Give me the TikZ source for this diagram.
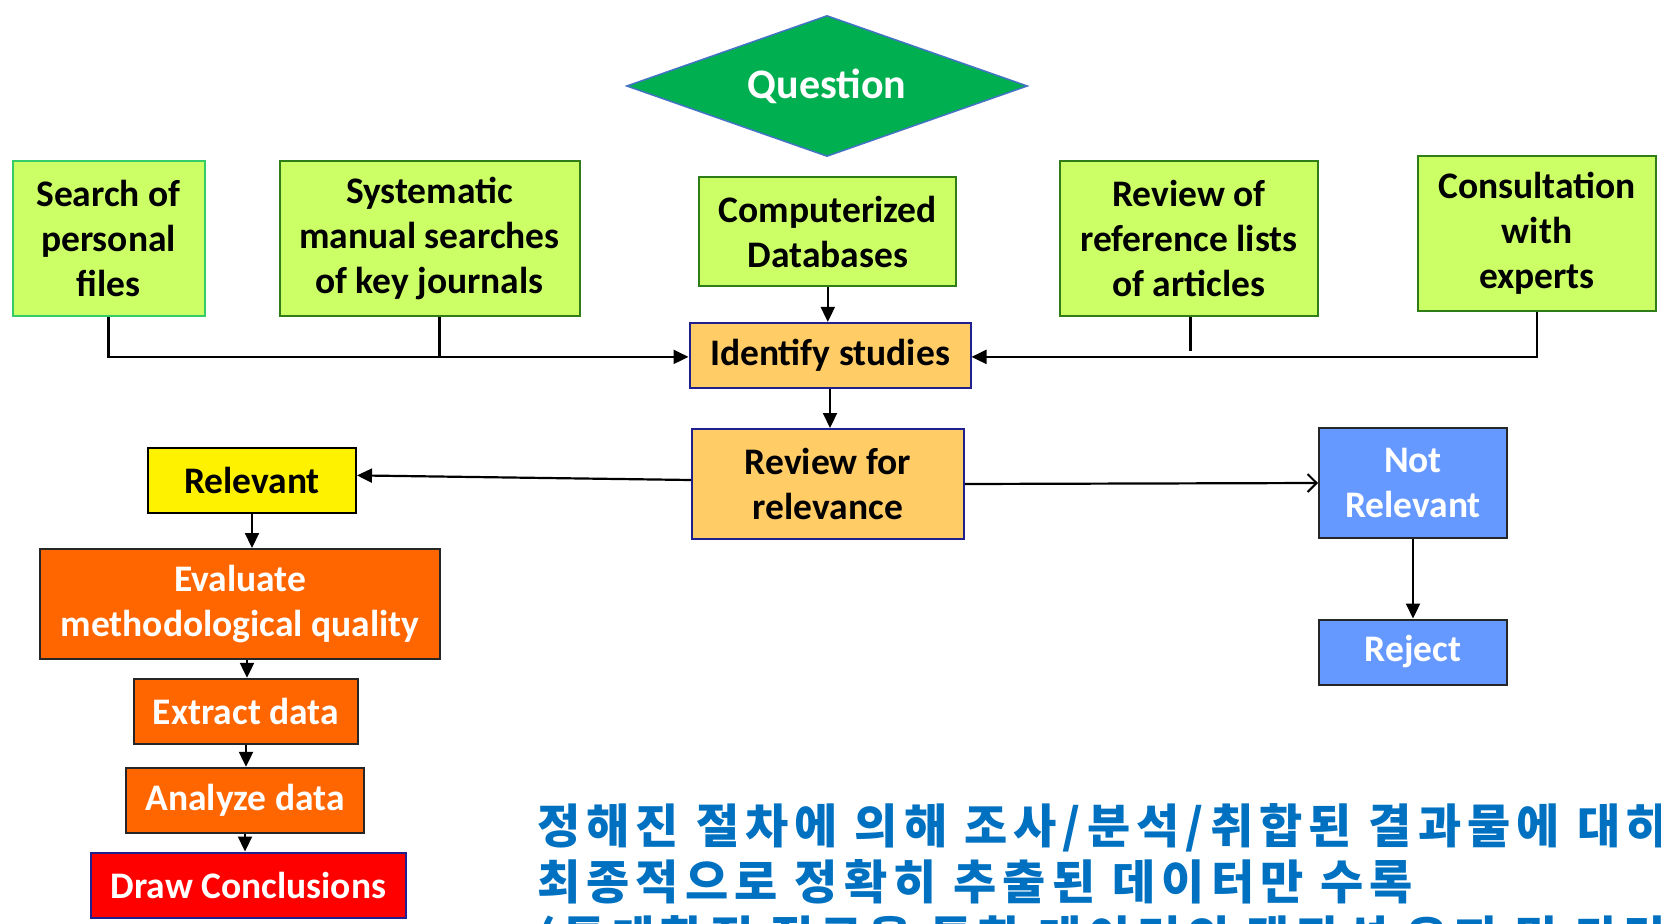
\documentclass[tikz,border=0pt]{standalone}
\usepackage{fontspec}
\setmainfont{Carlito}
\newfontfamily\kr{Noto Sans CJK KR}
\usetikzlibrary{shapes.geometric,arrows.meta}
\definecolor{lgreen}{HTML}{CCFF66}
\definecolor{dgreen}{HTML}{2E7D17}
\definecolor{bgreen}{HTML}{33CC66}
\definecolor{qgreen}{HTML}{00B050}
\definecolor{qblue}{HTML}{4472C4}
\definecolor{lorange}{HTML}{FFCC66}
\definecolor{navy}{HTML}{1F1F8F}
\definecolor{orng}{HTML}{FF6600}
\definecolor{lblue}{HTML}{6699FF}
\definecolor{krblue}{HTML}{0070C0}
\tikzset{
  base/.style={draw, line width=2pt, inner sep=0pt, align=center,
    font=\bfseries\fontsize{37.5}{45}\selectfont},
  srcbox/.style={base, fill=lgreen, draw=dgreen},
  procbox/.style={base, fill=lorange, draw=navy},
  relbox/.style={base, fill=yellow, draw=black},
  orbox/.style={base, fill=orng, draw=black!85, text=white},
  bluebox/.style={base, fill=lblue, draw=black!85, text=white},
  conn/.style={line width=2.2pt},
  arr/.style={conn, -{Triangle[length=15pt,width=14pt]}},
  openarr/.style={conn, -{Straight Barb[length=9pt,width=18pt,line width=2pt]}},
  krtext/.style={anchor=base west, inner sep=0pt, text=krblue,
    font=\kr\bfseries\fontsize{47}{56}\selectfont\addfontfeature{LetterSpace=13}},
}
\begin{document}
\begin{tikzpicture}[x=1pt,y=-1pt]
\useasboundingbox (0,0) rectangle (1661,923);
\clip (0,0) rectangle (1661,923);
\node[diamond, shape aspect=2.84, minimum width=401pt, minimum height=141pt,
  inner sep=0pt, fill=qgreen, draw=qblue, line width=1.5pt, text=white,
  font=\bfseries\fontsize{42}{46}\selectfont] (q) at (827,86) {Question};
\node[srcbox, draw=bgreen, minimum width=192pt, minimum height=155pt] (s1) at (108.5,238.3) {Search of\\personal\\files};
\node[srcbox, minimum width=300pt, minimum height=155pt] (s2) at (429.5,238.3) {Systematic\\manual searches\\of key journals};
\node[srcbox, minimum width=257pt, minimum height=109pt] (s3) at (827.8,231.5) {Computerized\\Databases};
\node[srcbox, minimum width=258pt, minimum height=155pt] (s4) at (1189,238.3) {Review of\\reference lists\\of articles};
\node[srcbox, minimum width=238pt, minimum height=155pt] (s5) at (1537,233) {Consultation\\with\\experts};
\node[procbox, minimum width=281pt, minimum height=65pt] (id) at (830,355.4) {Identify studies};
\node[procbox, minimum width=272pt, minimum height=110pt] (rv) at (828,484) {Review for\\relevance};
\node[relbox, minimum width=208pt, minimum height=65pt] (rel) at (252,480.4) {Relevant};
\node[bluebox, minimum width=188pt, minimum height=110pt] (nr) at (1413,483) {Not\\Relevant};
\node[bluebox, minimum width=188pt, minimum height=65pt] (rj) at (1413,652) {Reject};
\node[orbox, minimum width=400pt, minimum height=110pt] (ev) at (240,604) {Evaluate\\methodological quality};
\node[orbox, minimum width=224.5pt, minimum height=65pt] (ex) at (246,711.3) {Extract data};
\node[orbox, minimum width=238.4pt, minimum height=65pt] (an) at (245,800.3) {Analyze data};
\node[base, fill=red, draw=navy, text=white, minimum width=314.7pt, minimum height=65pt] (dc) at (248.4,885) {Draw Conclusions};

\draw[arr] (s1.south) |- ([yshift=-1.5pt]id.west);
\draw[conn] ([xshift=10pt]s2.south) -- ([xshift=10pt,yshift=-1.5pt]s2.south |- id.west);
\draw[arr] (s3.south) -- (s3.south |- id.north);
\draw[conn] ([xshift=1.5pt]s4.south) -- ([xshift=1.5pt,yshift=4pt]s4.south |- id.east);
\draw[arr] (s5.south) |- ([yshift=-1.5pt]id.east);
\draw[arr] (id.south) -- (id.south |- rv.north);
\draw[arr] ([yshift=4pt]rv.west) -- ([yshift=5pt]rel.east);
\draw[openarr] (rv.east) -- (nr.west);
\draw[arr] (nr.south) -- (nr.south |- rj.north);
\draw[arr] (rel.south) -- (rel.south |- ev.north);
\draw[arr] ([xshift=7pt]ev.south) -- ([xshift=7pt]ev.south |- ex.north);
\draw[arr] (ex.south) -- (ex.south |- an.north);
\draw[arr] (an.south) -- (an.south |- dc.north);

\node[krtext] (k1) at (537,843) {정해진 절차에 의해 조사/분석/취합된 결과물에 대하여};
\node[krtext] (k2) at (537,899) {최종적으로 정확히 추출된 데이터만 수록};
\node[krtext] (k3) at (537,955) {(통계학적 접근을 통한 데이터의 객관성 유지 및 타당성 확보)};
\end{tikzpicture}
\end{document}
